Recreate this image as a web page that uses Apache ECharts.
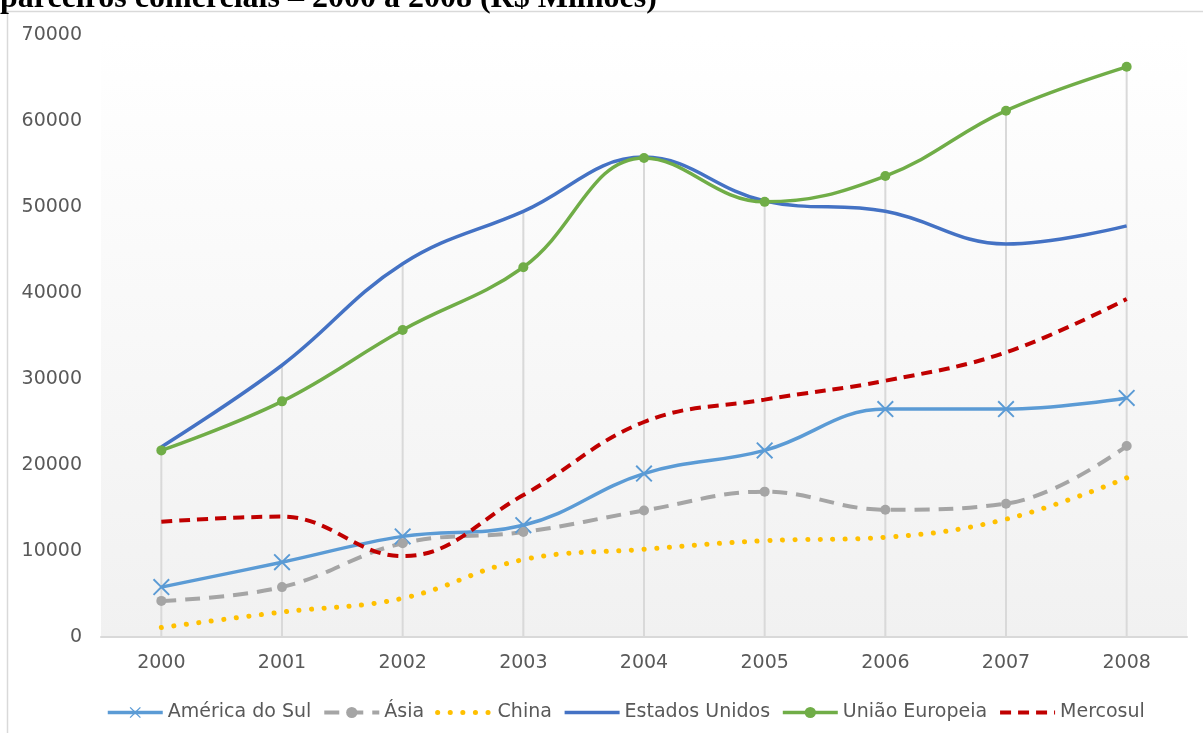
<!DOCTYPE html>
<html>
<head>
<meta charset="utf-8">
<script src="https://cdn.jsdelivr.net/npm/echarts@6/dist/echarts.min.js"></script>
<style>
    html, body { margin: 0; padding: 0; background: #fff; }
    #chart { width: 1203px; height: 733px; }
</style>
</head>
<body>
<div id="chart"></div>
<script>
const years = ['2000', '2001', '2002', '2003', '2004', '2005', '2006', '2007', '2008']
const americaDoSul = [5800, 8700, 11700, 13000, 19000, 21700, 26500, 26500, 27800]
const asia = [4200, 5800, 10900, 12200, 14700, 16900, 14800, 15500, 22200]
const china = [1100, 2900, 4500, 9000, 10200, 11200, 11600, 13700, 18500]
const estadosUnidos = [22100, 31600, 43400, 49500, 55800, 50700, 49500, 45700, 47800]
const uniaoEuropeia = [21700, 27400, 35700, 43000, 55700, 50600, 53600, 61200, 66300]
const mercosul = [13400, 14000, 9400, 16500, 25000, 27600, 29800, 33100, 39300]

// linhas verticais: do eixo até o maior valor de cada ano
const dropLines = years.map((y, i) =>
    Math.max(americaDoSul[i], asia[i], china[i], estadosUnidos[i], uniaoEuropeia[i], mercosul[i]))

const axisFont = 'DejaVu Sans'
const xSymbol = 'path://M0,0.8 L0.8,0 L5,4.2 L9.2,0 L10,0.8 L5.8,5 L10,9.2 L9.2,10 L5,5.8 L0.8,10 L0,9.2 L4.2,5 Z'

const chart = echarts.init(document.getElementById('chart'))

const lineSeries = (name, data, color, extra) => Object.assign({
    name: name,
    type: 'line',
    data: data,
    smooth: 0.4,
    symbol: 'none',
    z: 3,
    itemStyle: { color: color },
    lineStyle: { color: color, width: 3.5 }
}, extra)

chart.setOption({
    backgroundColor: '#fff',
    animation: false,
    graphic: [
        {
            type: 'rect',
            shape: { x: 7.5, y: 11.5, width: 1400, height: 900 },
            style: { fill: 'none', stroke: '#d9d9d9', lineWidth: 1.5 },
            silent: true
        },
        {
            type: 'text',
            left: 0,
            top: -17,
            style: {
                text: 'parceiros comerciais – 2000 a 2008 (R$ Milhões)',
                fontSize: 32,
                fontWeight: 'bold',
                fontFamily: 'Liberation Serif',
                fill: '#000'
            },
            silent: true
        }
    ],
    grid: {
        left: 101,
        right: 16,
        top: 35,
        bottom: 96,
        show: true,
        borderWidth: 0,
        backgroundColor: new echarts.graphic.LinearGradient(0, 0, 0, 1, [
            { offset: 0, color: '#ffffff' },
            { offset: 1, color: '#f1f1f1' }
        ])
    },
    legend: {
        data: [
            { name: 'América do Sul' },
            { name: 'Ásia' },
            { name: 'China', itemStyle: { opacity: 0 } },
            { name: 'Estados Unidos', itemStyle: { opacity: 0 } },
            { name: 'União Europeia' },
            { name: 'Mercosul', itemStyle: { opacity: 0 } }
        ],
        bottom: 6,
        left: 101,
        itemWidth: 55,
        itemHeight: 14,
        itemGap: 11,
        lineStyle: { width: 'inherit', type: 'inherit', cap: 'inherit' },
        textStyle: { fontFamily: axisFont, fontSize: 19, color: '#595959' }
    },
    xAxis: {
        type: 'category',
        data: years,
        axisLine: { lineStyle: { color: '#d9d9d9', width: 2 } },
        axisTick: { show: false },
        axisLabel: { fontFamily: axisFont, fontSize: 19, color: '#595959', margin: 17 },
        splitLine: { show: false }
    },
    yAxis: {
        type: 'value',
        min: 0,
        max: 70000,
        interval: 10000,
        axisLine: { show: false },
        axisTick: { show: false },
        axisLabel: {
            fontFamily: axisFont, fontSize: 19, color: '#595959', margin: 19,
            formatter: v => String(v)
        },
        splitLine: { show: false }
    },
    series: [
        {
            name: 'drop',
            type: 'bar',
            data: dropLines,
            barWidth: 2,
            silent: true,
            z: 1,
            itemStyle: { color: '#d9d9d9' }
        },
        lineSeries('América do Sul', americaDoSul, '#5b9bd5', {
            symbol: xSymbol, symbolSize: 17
        }),
        lineSeries('Ásia', asia, '#a5a5a5', {
            symbol: 'circle', symbolSize: 10,
            lineStyle: { color: '#a5a5a5', width: 4, type: [15, 9] }
        }),
        lineSeries('China', china, '#ffc000', {
            lineStyle: { color: '#ffc000', width: 5, type: [0.1, 12.5], cap: 'round' }
        }),
        lineSeries('Estados Unidos', estadosUnidos, '#4472c4'),
        lineSeries('União Europeia', uniaoEuropeia, '#70ad47', {
            symbol: 'circle', symbolSize: 10
        }),
        lineSeries('Mercosul', mercosul, '#c00000', {
            lineStyle: { color: '#c00000', width: 4, type: [11, 7] }
        })
    ]
})
</script>
</body>
</html>
